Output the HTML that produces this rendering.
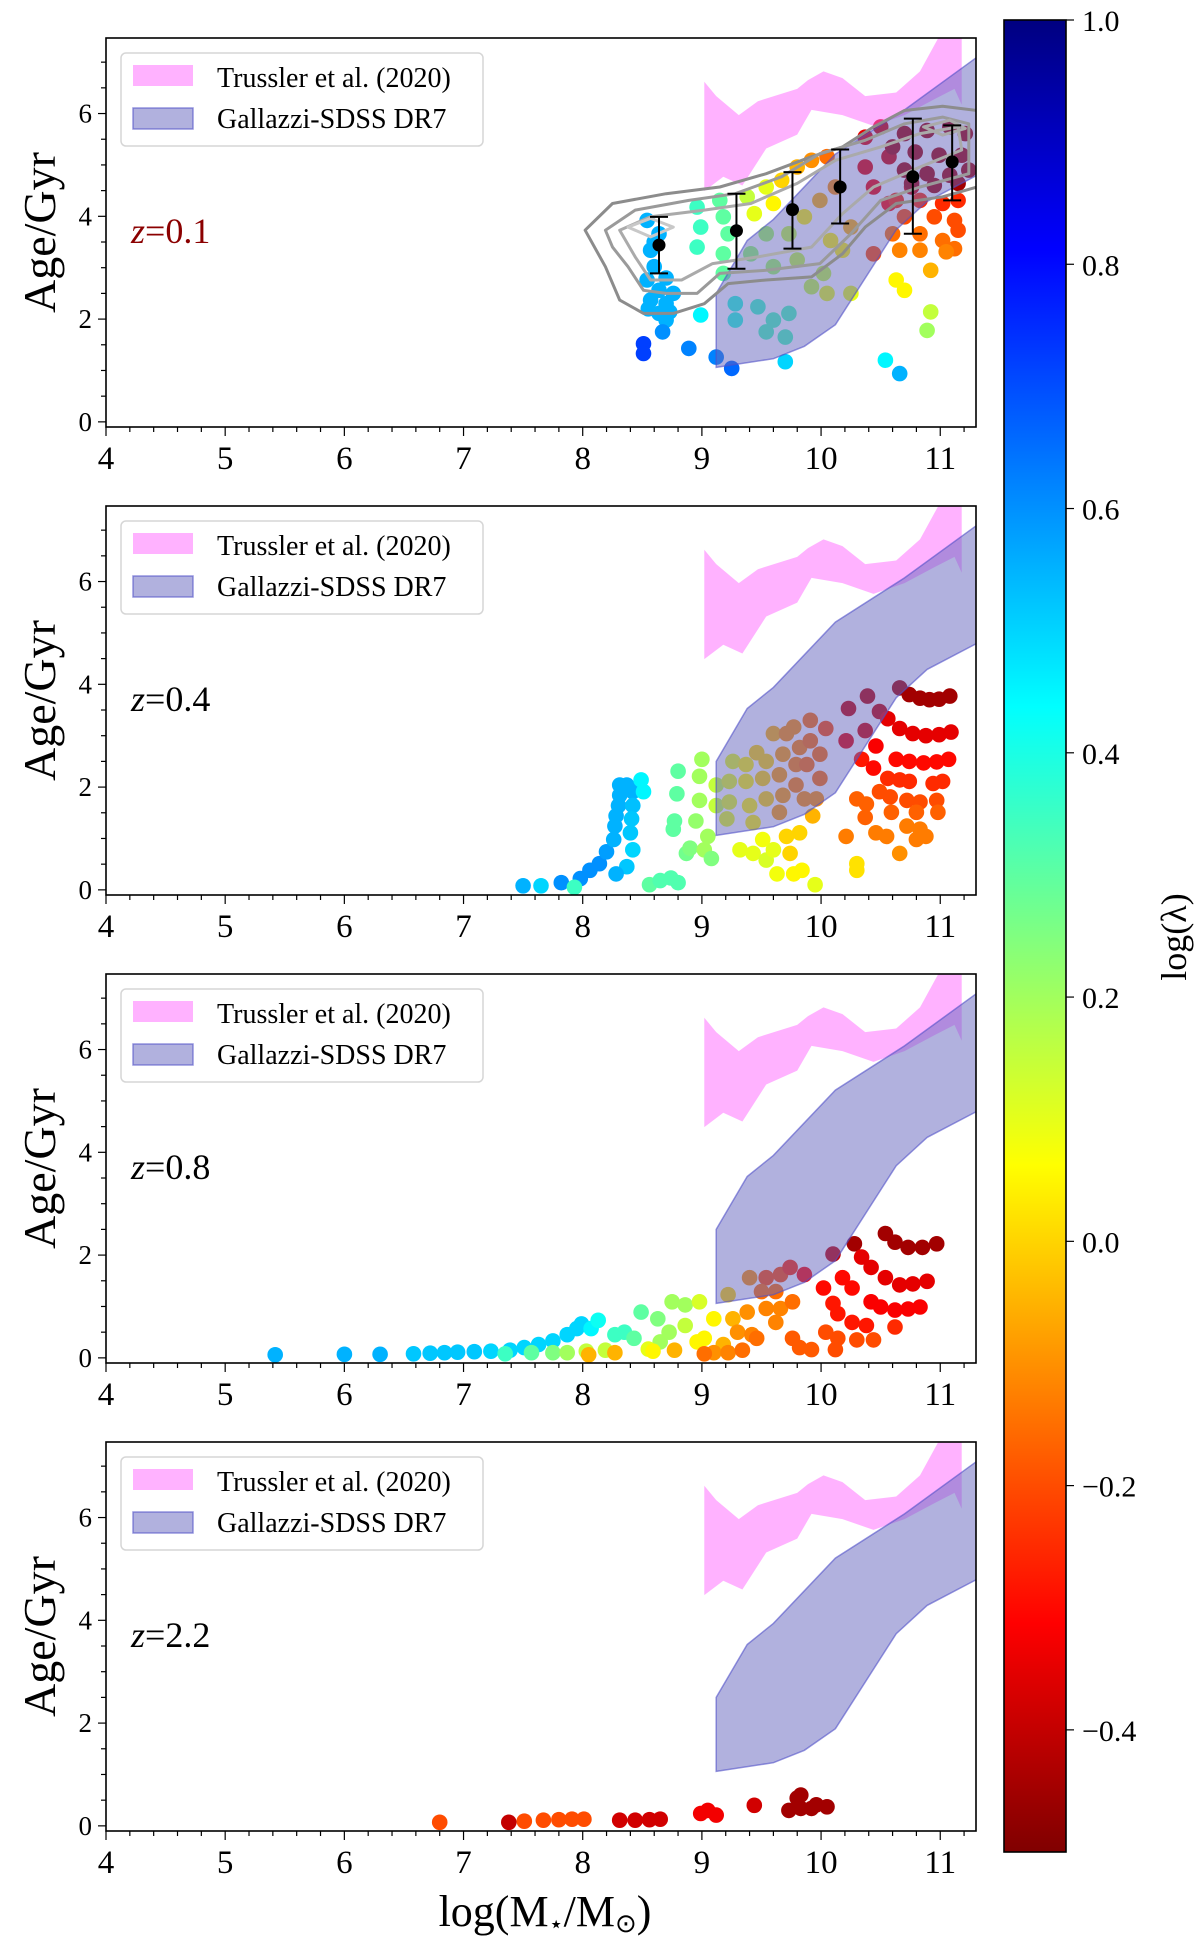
<!DOCTYPE html>
<html><head><meta charset="utf-8">
<style>
html,body{margin:0;padding:0;background:#fff;}
svg{display:block;font-family:"Liberation Serif",serif;}
</style></head>
<body>
<svg id="fig" width="1200" height="1950" viewBox="0 0 1200 1950" xmlns="http://www.w3.org/2000/svg"></svg>
<script>
// ---- data ----
const panelLabels = ["z=0.1","z=0.4","z=0.8","z=2.2"];
const xTicks = [4,5,6,7,8,9,10,11];
const yTicks = [0,2,4,6];
const cbarTicks = [-0.4,-0.2,0.0,0.2,0.4,0.6,0.8,1.0];
const cbarTickLabels = ["\u22120.4","\u22120.2","0.0","0.2","0.4","0.6","0.8","1.0"];

const trusslerUpper = [[9.02,6.62],[9.12,6.34],[9.31,5.97],[9.47,6.24],[9.8,6.48],[9.89,6.65],[10.02,6.82],[10.18,6.69],[10.37,6.34],[10.63,6.41],[10.83,6.82],[10.99,7.5],[11.1,8.2],[11.18,8.5]];
const trusslerLower = [[9.02,4.49],[9.18,4.77],[9.34,4.6],[9.54,5.32],[9.8,5.59],[9.92,6.07],[10.18,5.97],[10.44,5.76],[10.7,5.97],[10.95,6.28],[11.12,6.48],[11.18,6.17]];
const gallazziUpper = [[9.12,2.5],[9.38,3.53],[9.6,3.94],[10.12,5.21],[10.7,6.07],[11.31,7.1]];
const gallazziLower = [[9.12,1.06],[9.6,1.23],[9.86,1.47],[10.12,1.89],[10.63,3.74],[10.89,4.29],[11.31,4.8]];

const contour1 = [[8.02,3.73],[8.25,4.25],[8.70,4.44],[9.15,4.57],[9.54,4.83],[9.92,5.16],[10.18,5.35],[10.44,5.74],[10.70,6.06],[11.02,6.14],[11.31,6.06],[11.31,4.57],[11.02,4.38],[10.63,4.25],[10.37,3.79],[10.18,3.27],[9.92,2.82],[9.54,2.76],[9.22,2.69],[9.02,2.30],[8.76,2.11],[8.51,2.11],[8.31,2.37],[8.19,3.02]];
const contour2 = [[8.19,3.73],[8.44,4.12],[8.89,4.31],[9.28,4.44],[9.67,4.77],[9.99,5.22],[10.37,5.48],[10.70,5.80],[11.02,5.93],[11.24,5.80],[11.24,4.83],[10.83,4.57],[10.50,4.31],[10.25,3.66],[9.99,3.08],[9.54,2.95],[9.15,2.89],[8.96,2.50],[8.70,2.50],[8.51,2.56],[8.38,3.02],[8.25,3.40]];
const contour3 = [[8.31,3.73],[8.57,3.99],[9.02,4.12],[9.41,4.25],[9.80,4.64],[10.12,5.09],[10.50,5.35],[10.83,5.61],[11.15,5.74],[11.18,5.29],[10.83,4.96],[10.44,4.57],[10.18,4.05],[9.92,3.40],[9.47,3.21],[9.09,3.08],[8.83,2.76],[8.57,2.76],[8.44,3.21]];
const contour4 = [[8.38,3.79],[8.57,3.96],[8.76,3.79],[8.57,3.60]];
const contour5 = [[10.86,5.74],[11.08,5.87],[11.21,5.71],[11.02,5.58]];

const errX = [8.64,9.29,9.76,10.16,10.77,11.10];
const errY = [3.44,3.72,4.13,4.57,4.77,5.06];
const errLo = [2.89,2.98,3.37,3.86,3.66,4.31];
const errHi = [3.99,4.44,4.86,5.30,5.90,5.77];

const pointsZ01 = [[8.54,3.92,.55],[8.64,3.66,.55],[8.57,3.34,.55],[8.60,3.02,.55],[8.54,2.76,.55],[8.64,2.56,.55],[8.57,2.37,.55],[8.70,2.30,.55],[8.64,2.11,.55],[8.70,1.98,.55],[8.76,2.50,.55],[8.73,2.14,.55],[8.60,3.5,.55],[8.70,2.8,.55],[8.55,2.2,.55],[8.67,1.75,.6],[8.51,1.52,.72],[8.51,1.33,.72],[8.89,1.43,.62],[8.99,2.08,.45],[9.12,1.26,.62],[9.25,1.04,.66],[9.70,1.17,.5],[10.54,1.20,.45],[10.66,0.94,.55],
[8.96,4.18,.35],[8.99,3.79,.35],[8.96,3.40,.35],[9.15,4.31,.3],[9.18,3.99,.3],[9.22,3.66,.3],[9.18,3.27,.3],[9.18,2.89,.3],[9.28,2.30,.38],[9.28,1.98,.38],[9.47,2.24,.35],[9.60,1.98,.33],[9.54,1.75,.33],[9.70,1.65,.33],[9.73,2.11,.33],
[9.38,4.38,.15],[9.44,4.05,.1],[9.54,4.57,.1],[9.60,4.25,.05],[9.67,4.70,0],[9.80,4.96,-.05],[9.92,5.09,-.1],[10.05,5.16,-.15],[9.54,3.66,.2],[9.73,3.66,.15],[9.86,3.99,.05],[9.99,4.31,-.05],[10.12,4.57,-.1],[9.41,3.27,.22],[9.60,3.02,.2],[9.80,3.15,.15],[10.02,2.89,.15],[9.92,2.63,.15],[10.05,2.50,.1],[10.25,2.50,.1],[10.08,3.53,.05],[10.25,3.79,-.05],[10.18,3.34,.05],
[10.37,5.54,-.35],[10.50,5.74,-.38],[10.37,4.96,-.35],[10.57,5.16,-.38],[10.44,4.57,-.33],[10.57,4.25,-.3],[10.76,4.57,-.38],
[10.70,5.61,-.45],[10.89,5.67,-.45],[11.08,5.74,-.45],[11.21,5.61,-.45],[10.60,5.35,-.45],[10.79,5.25,-.45],[10.99,5.19,-.45],[11.18,5.19,-.45],[10.70,4.90,-.45],[10.89,4.83,-.45],[11.08,4.80,-.45],[11.24,4.90,-.45],[10.76,4.64,-.45],[10.95,4.60,-.45],[11.15,4.64,-.45],
[10.63,4.31,-.25],[10.83,4.31,-.25],[11.02,4.25,-.25],[11.15,4.31,-.25],[10.70,3.99,-.2],[10.95,3.99,-.2],[11.12,3.92,-.2],[11.15,3.73,-.2],[10.60,3.66,-.15],[10.83,3.66,-.15],[11.02,3.53,-.15],[11.12,3.37,-.15],[10.66,3.34,-.12],[10.83,3.34,-.12],[11.05,3.31,-.12],[10.44,3.27,-.2],[10.92,2.95,-.05],[10.63,2.76,.05],[10.70,2.56,.05],[10.92,2.14,.15],[10.89,1.78,.2]];

const pointsZ04 = [[7.50,0.08,.55],[7.65,0.08,.5],[7.82,0.14,.6],[7.98,0.22,.6],[8.06,0.38,.6],[8.14,0.51,.6],[8.20,0.74,.58],[8.26,0.98,.55],[8.27,1.24,.55],[8.28,1.44,.55],[8.30,1.64,.55],[8.31,1.84,.55],[8.31,2.04,.55],[8.37,2.04,.55],[8.42,1.91,.55],[8.42,1.64,.53],[8.41,1.38,.52],[8.40,1.11,.52],[8.42,0.78,.5],[8.37,0.45,.52],[8.28,0.31,.55],[8.49,2.14,.45],[8.51,1.91,.45],
[7.93,0.05,.35],[8.56,0.10,.3],[8.65,0.18,.32],[8.74,0.23,.32],[8.80,0.14,.32],
[8.80,2.31,.3],[8.79,1.87,.3],[8.77,1.34,.3],[8.76,1.18,.3],[9.00,2.54,.2],[8.98,2.21,.2],[8.98,1.74,.2],[8.95,1.34,.22],[8.87,0.71,.27],[8.90,0.81,.25],[9.02,0.78,.2],[9.08,0.61,.25],[9.05,1.04,.2],
[9.12,2.04,.15],[9.12,1.64,.15],[9.26,2.50,.1],[9.23,2.11,.1],[9.23,1.71,.1],[9.21,1.38,.1],[9.37,2.44,.05],[9.37,2.11,.05],[9.40,1.64,.05],[9.43,1.31,.05],[9.46,2.67,0],[9.54,2.50,0],[9.51,2.17,0],[9.54,1.77,0],[9.60,3.04,-.05],[9.71,3.04,-.1],[9.68,2.64,-.08],[9.65,2.24,-.08],[9.68,1.84,-.08],[9.65,1.51,-.08],[9.77,3.17,-.1],[9.82,2.77,-.12],[9.79,2.44,-.12],[9.79,2.04,-.12],[9.91,3.30,-.15],[9.91,2.90,-.15],[9.88,2.44,-.15],[9.99,2.64,-.15],[9.99,2.17,-.15],[10.04,3.14,-.2],[9.96,1.77,-.1],[9.86,1.77,-.1],[9.93,1.44,-.05],
[9.32,0.78,.1],[9.43,0.71,.1],[9.54,0.58,.12],[9.60,0.78,.1],[9.63,0.31,.08],[9.74,0.71,0],[9.71,1.04,0],[9.82,1.11,0],[9.77,0.31,.05],[9.84,0.38,.05],[9.95,0.10,.1],[9.51,0.98,.08],
[10.21,2.90,-.35],[10.23,3.53,-.4],[10.39,3.77,-.42],[10.37,3.10,-.38],[10.49,3.47,-.4],[10.46,2.80,-.32],[10.34,2.54,-.28],[10.44,2.37,-.3],
[10.66,3.93,-.45],[10.74,3.80,-.45],[10.83,3.73,-.45],[10.91,3.70,-.45],[10.99,3.71,-.45],[11.08,3.77,-.45],
[10.56,3.33,-.35],[10.66,3.14,-.35],[10.77,3.04,-.35],[10.88,3.00,-.35],[10.99,3.02,-.35],[11.09,3.07,-.35],
[10.63,2.54,-.3],[10.74,2.50,-.3],[10.86,2.47,-.3],[10.97,2.49,-.3],[11.07,2.54,-.3],
[10.56,2.17,-.25],[10.66,2.14,-.25],[10.74,2.11,-.25],[10.94,2.07,-.25],[11.02,2.11,-.25],
[10.49,1.91,-.2],[10.58,1.81,-.2],[10.72,1.74,-.2],[10.83,1.71,-.2],[10.97,1.74,-.2],
[10.30,1.77,-.17],[10.38,1.67,-.17],[10.59,1.51,-.17],[10.80,1.51,-.17],[10.98,1.51,-.17],[10.37,1.41,-.17],
[10.21,1.04,-.13],[10.46,1.11,-.13],[10.55,1.04,-.13],[10.72,1.24,-.13],[10.83,1.18,-.13],[10.88,1.04,-.13],[10.80,0.98,-.13],
[10.66,0.71,-.1],[10.30,0.51,.02],[10.30,0.38,.02]];

const pointsZ08 = [[5.42,0.06,.55],[6.00,0.07,.55],[6.30,0.07,.55],[6.58,0.08,.52],[6.72,0.09,.52],[6.84,0.10,.52],[6.95,0.11,.52],[7.09,0.12,.52],[7.23,0.13,.5],[7.39,0.15,.5],[7.51,0.20,.5],[7.63,0.26,.5],[7.75,0.33,.5],[7.87,0.45,.5],[7.95,0.57,.5],[7.99,0.66,.5],[8.07,0.57,.45],[8.13,0.73,.42],
[7.35,0.08,.35],[7.57,0.10,.3],[7.75,0.10,.25],[7.87,0.10,.2],[8.03,0.13,.15],[8.19,0.15,.15],[8.27,0.10,-.05],[8.05,0.06,-.05],
[8.27,0.45,.35],[8.35,0.50,.35],[8.43,0.38,.3],[8.49,0.89,.3],[8.63,0.76,.25],[8.65,0.31,.2],[8.75,1.09,.2],[8.86,1.03,.2],[8.98,1.09,.12],[8.86,0.63,.15],[8.725,0.50,.2],[8.55,0.17,.1],[8.59,0.13,.05],[8.77,0.15,-.05],[8.96,0.31,.05],[9.02,0.38,.05],[9.10,0.76,.05],
[9.22,1.23,0],[9.40,1.56,-.1],[9.54,1.56,-.2],[9.66,1.62,-.2],[9.74,1.76,-.25],[9.86,1.62,-.3],[9.50,1.29,-.15],[9.62,1.29,-.15],[9.26,0.76,-.05],[9.38,0.89,-.1],[9.54,0.96,-.12],[9.66,0.96,-.12],[9.76,1.09,-.15],[9.30,0.50,-.1],[9.42,0.45,-.12],[9.18,0.26,-.05],[9.10,0.10,-.1],[9.02,0.08,-.15],[9.22,0.10,-.12],[9.34,0.15,-.15],[9.46,0.38,-.15],[9.62,0.69,-.12],
[10.10,2.02,-.4],[10.28,2.22,-.45],[10.02,1.36,-.3],[10.18,1.56,-.3],[10.26,1.36,-.3],[10.10,1.06,-.28],[10.14,0.86,-.28],[10.26,0.69,-.28],[10.38,0.63,-.28],[10.62,0.60,-.25],[10.04,0.50,-.2],[10.14,0.38,-.2],[10.30,0.35,-.2],[10.44,0.35,-.2],[9.76,0.38,-.18],[9.82,0.20,-.18],[9.92,0.16,-.18],[10.12,0.16,-.2],
[10.54,2.42,-.45],[10.62,2.25,-.45],[10.73,2.15,-.45],[10.85,2.15,-.45],[10.97,2.22,-.45],
[10.34,1.96,-.35],[10.42,1.76,-.35],[10.54,1.56,-.35],[10.66,1.42,-.35],[10.77,1.44,-.35],[10.89,1.49,-.35],
[10.42,1.09,-.32],[10.50,0.99,-.32],[10.62,0.93,-.32],[10.73,0.95,-.32],[10.83,0.99,-.32]];

const pointsZ22 = [[6.80,0.07,-.2],[7.38,0.07,-.4],[7.51,0.09,-.2],[7.67,0.11,-.2],[7.80,0.12,-.2],[7.91,0.13,-.2],[8.01,0.13,-.2],[8.31,0.11,-.38],[8.44,0.11,-.38],[8.56,0.12,-.38],[8.65,0.13,-.38],[8.99,0.24,-.33],[9.12,0.21,-.33],[9.05,0.30,-.33],[9.44,0.40,-.38],[9.80,0.54,-.45],[9.83,0.34,-.45],[9.92,0.34,-.45],[10.05,0.37,-.45],[9.83,0.60,-.45],[9.73,0.30,-.45],[9.96,0.41,-.45]];

// ---- layout ----
const NS = "http://www.w3.org/2000/svg";
const svg = document.getElementById("fig");
const panelTops = [38,506,974,1442];
const AX_L = 106, AX_W = 870, AX_H = 389;
const XMIN = 4, XMAX = 11.3, YMIN = -0.1, YMAX = 7.47;
const CMIN = -0.5, CMAX = 1.0;

function mk(tag, attrs, parent){
  const e = document.createElementNS(NS, tag);
  for (const k in attrs) e.setAttribute(k, attrs[k]);
  (parent||svg).appendChild(e);
  return e;
}
function jet(t){
  const cl = v => Math.max(0, Math.min(1, v));
  const r = cl(1.5 - Math.abs(4*t-3)), g = cl(1.5 - Math.abs(4*t-2)), b = cl(1.5 - Math.abs(4*t-1));
  return `rgb(${Math.round(r*255)},${Math.round(g*255)},${Math.round(b*255)})`;
}
function cmap(c){ return jet(1 - (c - CMIN)/(CMAX - CMIN)); }

const allPoints = [pointsZ01, pointsZ04, pointsZ08, pointsZ22];

panelTops.forEach((top, pi) => {
  const sx = v => AX_L + (v - XMIN)/(XMAX - XMIN)*AX_W;
  const sy = v => top + (YMAX - v)/(YMAX - YMIN)*AX_H;
  const g = mk("g", {});
  
  
  const cid = "clip" + pi;
  const cp = mk("clipPath", {id: cid}, g);
  mk("rect", {x: AX_L, y: top, width: AX_W, height: AX_H}, cp);
  const plot = mk("g", {"clip-path": `url(#${cid})`}, g);

  const sg = mk("g", {}, plot);
  
  
  allPoints[pi].forEach(p => {
    const c = mk("circle", {cx: sx(p[0]).toFixed(1), cy: sy(p[1]).toFixed(1), r: 7.8, fill: cmap(p[2])}, sg);
    
    
  });

  const band = (up, lo, fill, stroke, name) => {
    const pts = up.map(p => `${sx(p[0]).toFixed(1)},${sy(p[1]).toFixed(1)}`)
      .concat(lo.slice().reverse().map(p => `${sx(p[0]).toFixed(1)},${sy(p[1]).toFixed(1)}`));
    const e = mk("polygon", {points: pts.join(" "), fill: fill, stroke: stroke, "stroke-width": 1.5}, plot);
    
    
  };
  band(trusslerUpper, trusslerLower, "rgba(255,102,255,0.5)", "none", "trussler-band");
  band(gallazziUpper, gallazziLower, "rgba(100,100,190,0.5)", "rgba(80,80,200,0.6)", "gallazzi-band");

  if (pi === 0) {
    [[contour1,"#8c8c8c"],[contour2,"#9a9a9a"],[contour3,"#aaaaaa"],[contour4,"#c8c8c8"],[contour5,"#aaaaaa"]].forEach(([cn,col]) => {
      const d = cn.map((p,i) => (i?"L":"M") + sx(p[0]).toFixed(1) + "," + sy(p[1]).toFixed(1)).join(" ") + "Z";
      const e = mk("path", {d: d, fill: "none", stroke: col, "stroke-width": 3, "stroke-linejoin": "round"}, plot);
      
      
    });
    errX.forEach((x, i) => {
      const eg = mk("g", {}, plot);
      
      
      const X = sx(x);
      mk("line", {x1: X, x2: X, y1: sy(errLo[i]), y2: sy(errHi[i]), stroke: "#000", "stroke-width": 2}, eg);
      mk("line", {x1: X-9, x2: X+9, y1: sy(errLo[i]), y2: sy(errLo[i]), stroke: "#000", "stroke-width": 2}, eg);
      mk("line", {x1: X-9, x2: X+9, y1: sy(errHi[i]), y2: sy(errHi[i]), stroke: "#000", "stroke-width": 2}, eg);
      mk("circle", {cx: X, cy: sy(errY[i]), r: 6.5, fill: "#000"}, eg);
    });
  }

  const fr = mk("rect", {x: AX_L, y: top, width: AX_W, height: AX_H, fill: "none", stroke: "#000", "stroke-width": 1.6}, g);
  
  

  const bottom = top + AX_H;
  for (let v = 4; v <= 11.3001; v += 0.2) {
    const major = Math.abs(v - Math.round(v)) < 1e-6;
    mk("line", {x1: sx(v), x2: sx(v), y1: bottom, y2: bottom + (major ? 9 : 5), stroke: "#000", "stroke-width": 1.2}, g);
  }
  xTicks.forEach(v => {
    const t = mk("text", {x: sx(v), y: bottom + 42, "font-size": 33, "text-anchor": "middle", fill: "#000"}, g);
    t.textContent = String(v);
    
    
  });
  for (let v = 0; v <= 7.4001; v += 0.5) {
    const major = Math.abs(v/2 - Math.round(v/2)) < 1e-6;
    mk("line", {x1: AX_L, x2: AX_L - (major ? 8 : 5), y1: sy(v), y2: sy(v), stroke: "#000", "stroke-width": 1.2}, g);
  }
  yTicks.forEach(v => {
    const t = mk("text", {x: AX_L - 14, y: sy(v) + 9, "font-size": 27, "text-anchor": "end", fill: "#000"}, g);
    t.textContent = String(v);
    
    
  });
  const yl = mk("text", {x: 0, y: 0, "font-size": 46, "text-anchor": "middle", fill: "#000",
    transform: `translate(55,${top + AX_H/2}) rotate(-90)`}, g);
  yl.textContent = "Age/Gyr";
  
  

  const zl = mk("text", {x: 131, y: top + 205, "font-size": 36, fill: pi === 0 ? "#8b0000" : "#000"}, g);
  zl.innerHTML = '<tspan font-style="italic">z</tspan>' + panelLabels[pi].slice(1);
  
  

  const lg = mk("g", {}, g);
  
  
  mk("rect", {x: 121, y: top + 15, width: 362, height: 93, rx: 5, fill: "rgba(255,255,255,0.85)", stroke: "#d6d6d6", "stroke-width": 1.5}, lg);
  const e1 = mk("g", {}, lg);
  
  
  mk("rect", {x: 133, y: top + 27, width: 60, height: 21, fill: "rgba(255,102,255,0.5)"}, e1);
  const t1 = mk("text", {x: 217, y: top + 49, "font-size": 28, fill: "#000"}, e1);
  t1.textContent = "Trussler et al. (2020)";
  const e2 = mk("g", {}, lg);
  
  
  mk("rect", {x: 133, y: top + 70, width: 60, height: 21, fill: "rgba(100,100,190,0.5)", stroke: "rgba(80,80,200,0.6)", "stroke-width": 1.5}, e2);
  const t2 = mk("text", {x: 217, y: top + 90, "font-size": 28, fill: "#000"}, e2);
  t2.textContent = "Gallazzi-SDSS DR7";
});

const xl = mk("text", {x: 545, y: 1926, "font-size": 44, "text-anchor": "middle", fill: "#000"});
xl.innerHTML = 'log(M<tspan font-size="24" dy="6">\u22c6</tspan><tspan dy="-6">/M</tspan><tspan font-size="26" dy="6">\u2299</tspan><tspan dy="-6">)</tspan>';



const CB_L = 1004, CB_W = 62, CB_T = 20, CB_B = 1852;
const defs = mk("defs", {});
const lgd = mk("linearGradient", {id: "jetgrad", x1: 0, y1: 0, x2: 0, y2: 1}, defs);
for (let i = 0; i <= 40; i++) {
  mk("stop", {offset: (i/40).toFixed(3), "stop-color": jet(i/40)}, lgd);
}
const cb = mk("g", {});


mk("rect", {x: CB_L, y: CB_T, width: CB_W, height: CB_B - CB_T, fill: "url(#jetgrad)", stroke: "#000", "stroke-width": 1.6}, cb);
const cy = v => CB_B - (v - CMIN)/(CMAX - CMIN)*(CB_B - CB_T);
cbarTicks.forEach((v, i) => {
  mk("line", {x1: CB_L + CB_W, x2: CB_L + CB_W + 8, y1: cy(v), y2: cy(v), stroke: "#000", "stroke-width": 1.2}, cb);
  const t = mk("text", {x: 1082, y: cy(v) + 11, "font-size": 30, fill: "#000"}, cb);
  t.textContent = cbarTickLabels[i];
  
  
});
const cl = mk("text", {x: 0, y: 0, "font-size": 36, "text-anchor": "middle", fill: "#000", transform: "translate(1186,937) rotate(-90)"});
cl.textContent = "log(\u03bb)";


</script>
</body></html>
